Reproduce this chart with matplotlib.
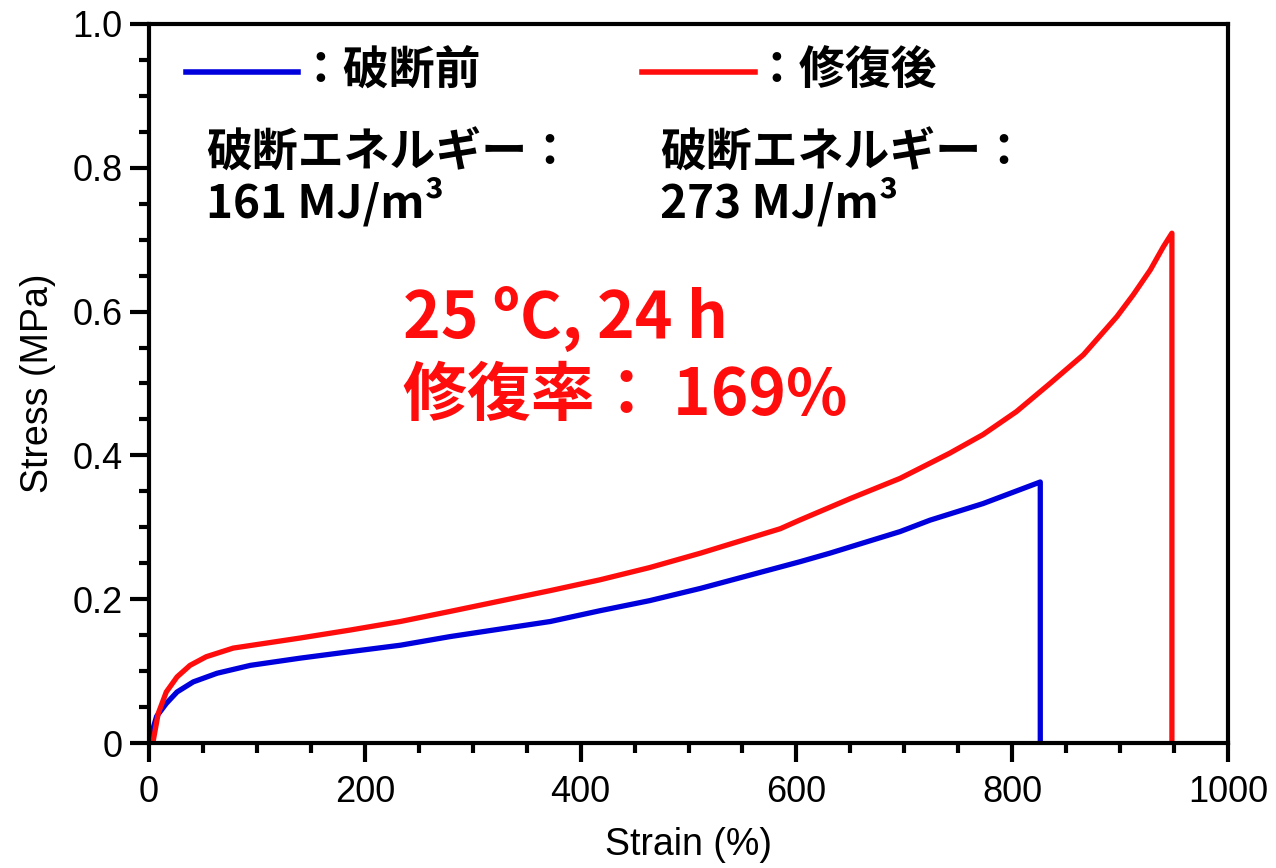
import numpy as np
import matplotlib.pyplot as plt
from matplotlib.ticker import MultipleLocator

# stress-strain curves
strain_before = [0, 2.5, 7, 16, 26, 41, 63, 94, 140, 186, 233, 279, 372, 418, 464,
                 511, 603, 631, 696, 724, 773, 826, 826]
stress_before = [0, 0.014, 0.037, 0.055, 0.071, 0.085, 0.097, 0.108, 0.118, 0.127,
                 0.136, 0.148, 0.169, 0.184, 0.198, 0.215, 0.252, 0.264,
                 0.294, 0.310, 0.333, 0.363, 0]

strain_after = [4, 8.5, 16, 26, 38, 53, 78, 109, 140, 186, 233, 279, 372, 418, 464,
                511, 585, 603, 650, 696, 742, 773, 804, 835, 866, 897, 912, 928,
                940, 948, 948]
stress_after = [0.004, 0.041, 0.071, 0.092, 0.108, 0.120, 0.132, 0.139, 0.146, 0.157,
                0.169, 0.183, 0.212, 0.227, 0.244, 0.264, 0.298, 0.310, 0.340, 0.368,
                0.403, 0.429, 0.461, 0.500, 0.540, 0.593, 0.623, 0.658, 0.690, 0.709,
                0.006]

x_ticks = [0, 200, 400, 600, 800, 1000]
y_ticks = [0, 0.2, 0.4, 0.6, 0.8, 1.0]
y_tick_labels = ['0', '0.2', '0.4', '0.6', '0.8', '1.0']

labels = ['：破断前', '：修復後']
energies = ['破断エネルギー：\n161 MJ/m³', '破断エネルギー：\n273 MJ/m³']
note = '25 ºC, 24 h\n修復率： 169%'

blue = '#0000dd'
red = '#ff0d0d'
jp = ['Noto Sans CJK JP', 'DejaVu Sans']

plt.rcParams['font.family'] = ['Liberation Sans', 'DejaVu Sans']

fig = plt.figure(figsize=(12.76, 8.68), dpi=100)
ax = fig.add_axes([0.1168, 0.144, 0.8456, 0.8284])

ax.plot(strain_before, stress_before, color=blue, lw=3.8)
ax.plot(strain_after, stress_after, color=red, lw=3.8)

ax.set_xlim(0, 1000)
ax.set_ylim(0, 1.0)
ax.set_xticks(x_ticks)
ax.set_yticks(y_ticks)
ax.set_yticklabels(y_tick_labels)
ax.xaxis.set_minor_locator(MultipleLocator(50))
ax.yaxis.set_minor_locator(MultipleLocator(0.05))
ax.tick_params(which='major', direction='out', length=14, width=3, labelsize=26, pad=5)
ax.tick_params(axis='x', which='major', pad=9)
ax.tick_params(which='minor', direction='out', length=7, width=3)
for s in ax.spines.values():
    s.set_linewidth(3)

ax.set_xlabel('Strain (%)', fontsize=27, labelpad=12)
ax.set_ylabel('Stress (MPa)', fontsize=27, labelpad=12)

# hand-made legend
ax.plot([0.0343, 0.1381], [0.933, 0.933], color=blue, lw=4, transform=ax.transAxes)
ax.plot([0.4568, 0.5616], [0.933, 0.933], color=red, lw=4, transform=ax.transAxes)
ax.text(0.138, 0.933, labels[0], transform=ax.transAxes, family=jp,
        fontsize=33, fontweight='bold', va='center')
ax.text(0.560, 0.933, labels[1], transform=ax.transAxes, family=jp,
        fontsize=33, fontweight='bold', va='center')
ax.text(0.053, 0.852, energies[0], transform=ax.transAxes, family=jp,
        fontsize=33, fontweight='bold', va='top', linespacing=1.05)
ax.text(0.474, 0.852, energies[1], transform=ax.transAxes, family=jp,
        fontsize=33, fontweight='bold', va='top', linespacing=1.05)

ax.text(0.235, 0.635, note, transform=ax.transAxes, family=jp, color=red,
        fontsize=46, fontweight='bold', va='top', linespacing=1.22)

fig.savefig('out.png', dpi=100)
